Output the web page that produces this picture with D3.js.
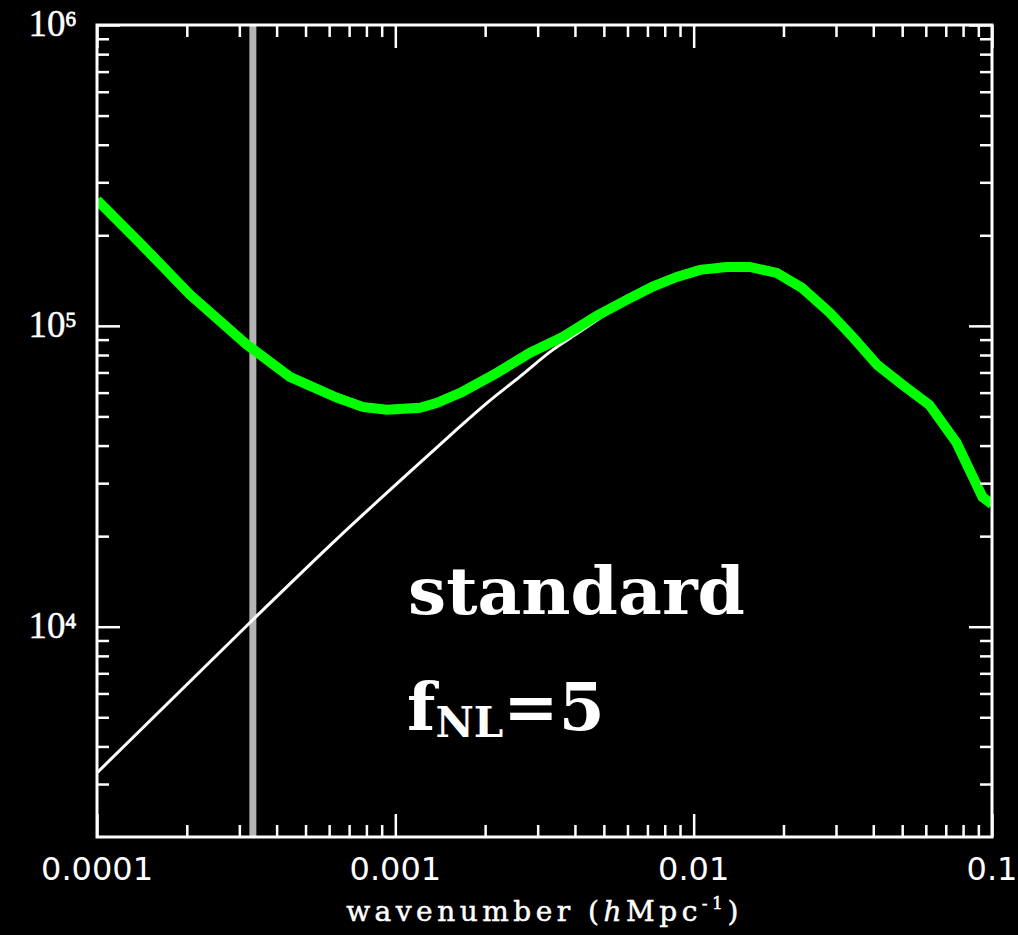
<!DOCTYPE html>
<html>
<head>
<meta charset="utf-8">
<script src="https://cdn.jsdelivr.net/npm/d3@7"></script>
<style>
  body { margin: 0; background: #000; }
</style>
</head>
<body>
<div id="chart-area"></div>
<script>

// data
var xMajor = [0.0001, 0.001, 0.01, 0.1]
var xLabels = ['0.0001', '0.001', '0.01', '0.1']
var yMajor = [1e4, 1e5, 1e6]
var yExp = ['4', '5', '6']

// green curve (fNL = 5)
var greenK = [1e-4, 1.39e-4, 2.05e-4, 3.18e-4, 4.43e-4, 6.37e-4, 7.78e-4, 9.36e-4, 1.21e-3, 1.38e-3,
              1.68e-3, 2.19e-3, 2.82e-3, 3.64e-3, 4.73e-3, 5.96e-3, 7.29e-3, 8.78e-3, 1.05e-2, 1.29e-2,
              1.54e-2, 1.90e-2, 2.30e-2, 2.85e-2, 3.41e-2, 4.13e-2, 5.01e-2, 6.17e-2, 7.60e-2, 9.29e-2, 0.1]
var greenP = [2.62e5, 1.89e5, 1.27e5, 8.65e4, 6.77e4, 5.77e4, 5.38e4, 5.26e4, 5.34e4, 5.55e4,
              6.04e4, 6.98e4, 8.13e4, 9.19e4, 1.08e5, 1.22e5, 1.35e5, 1.455e5, 1.535e5, 1.57e5,
              1.57e5, 1.50e5, 1.34e5, 1.11e5, 9.19e4, 7.41e4, 6.37e4, 5.46e4, 4.09e4, 2.70e4, 2.55e4]

// white curve (standard) - above 0.006 it runs under the green one
var whiteK = [1e-4, 3.33e-4, 6.32e-4, 1.21e-3, 1.56e-3, 2.03e-3, 2.61e-3, 3.37e-3, 4.15e-3, 5.11e-3,
              5.96e-3, 7.29e-3, 8.78e-3, 1.05e-2, 1.29e-2, 1.54e-2, 1.90e-2, 2.30e-2, 2.85e-2, 3.41e-2,
              4.13e-2, 5.01e-2, 6.17e-2, 7.60e-2, 9.29e-2, 0.1]
var whiteP = [3270, 1.055e4, 1.945e4, 3.51e4, 4.41e4, 5.55e4, 6.77e4, 8.32e4, 9.55e4, 1.10e5,
              1.22e5, 1.35e5, 1.455e5, 1.535e5, 1.57e5, 1.57e5, 1.50e5, 1.34e5, 1.11e5, 9.19e4,
              7.41e4, 6.37e4, 5.46e4, 4.09e4, 2.70e4, 2.55e4]

// grey vertical marker
var markerK = 3.33e-4

//SVG with margins
var margin = {left: 97, right: 26, top: 25, bottom: 98}
var width = 1018 - margin.left - margin.right
var height = 935 - margin.top - margin.bottom

var svg = d3.select('#chart-area').append('svg')
  .attr('width', 1018)
  .attr('height', 935)
  .style('background', '#000')

var group = svg.append('g')
  .attr('transform', 'translate(' + margin.left + ',' + margin.top + ')')

//1. scales
var xScale = d3.scaleLog().domain([1e-4, 0.1]).range([0, width])
var yScale = d3.scaleLog().domain([2000, 1e6]).range([height, 0])

// minor tick positions 2..9 in each decade
var xMinor = [], yMinor = []
xMajor.slice(0, 3).forEach(function(d) {
  for (var m = 2; m <= 9; m++) xMinor.push(d * m)
})
;[1e3, 1e4, 1e5].forEach(function(d) {
  for (var m = 2; m <= 9; m++) if (d * m > 2000) yMinor.push(d * m)
})

// clip for the curves
group.append('clipPath').attr('id', 'plot-clip')
  .append('rect').attr('width', width).attr('height', height)

var plot = group.append('g').attr('clip-path', 'url(#plot-clip)')

//2. grey marker line
plot.append('line')
  .attr('x1', xScale(markerK)).attr('x2', xScale(markerK))
  .attr('y1', 0).attr('y2', height)
  .attr('stroke', '#b4b4b4')
  .attr('stroke-width', 7)

//3. curves
var line = d3.line()
  .x(function(d) { return xScale(d[0]) })
  .y(function(d) { return yScale(d[1]) })

plot.append('path')
  .datum(d3.zip(whiteK, whiteP))
  .attr('d', line.curve(d3.curveMonotoneX))
  .attr('fill', 'none')
  .attr('stroke', '#fff')
  .attr('stroke-width', 3)

plot.append('path')
  .datum(d3.zip(greenK, greenP))
  .attr('d', line.curve(d3.curveLinear))
  .attr('fill', 'none')
  .attr('stroke', '#00ff00')
  .attr('stroke-width', 10)

//4. axes, ticks inward on all four sides
function styleAxis(g) {
  g.select('.domain').remove()
  g.selectAll('.tick line').attr('stroke', '#fff').attr('stroke-width', 2.5)
  g.selectAll('.tick text').remove()
}

group.append('g').attr('transform', 'translate(0,' + height + ')')
  .call(d3.axisBottom(xScale).tickValues(xMajor).tickSize(-23)).call(styleAxis)
group.append('g').attr('transform', 'translate(0,' + height + ')')
  .call(d3.axisBottom(xScale).tickValues(xMinor).tickSize(-12)).call(styleAxis)
group.append('g')
  .call(d3.axisTop(xScale).tickValues(xMajor).tickSize(-23)).call(styleAxis)
group.append('g')
  .call(d3.axisTop(xScale).tickValues(xMinor).tickSize(-12)).call(styleAxis)

group.append('g')
  .call(d3.axisLeft(yScale).tickValues(yMajor).tickSize(-23)).call(styleAxis)
group.append('g')
  .call(d3.axisLeft(yScale).tickValues(yMinor).tickSize(-12)).call(styleAxis)
group.append('g').attr('transform', 'translate(' + width + ',0)')
  .call(d3.axisRight(yScale).tickValues(yMajor).tickSize(-23)).call(styleAxis)
group.append('g').attr('transform', 'translate(' + width + ',0)')
  .call(d3.axisRight(yScale).tickValues(yMinor).tickSize(-12)).call(styleAxis)

// frame
group.append('rect')
  .attr('width', width).attr('height', height)
  .attr('fill', 'none')
  .attr('stroke', '#fff')
  .attr('stroke-width', 3)

//5. tick labels
group.selectAll('.xlab')
  .data(xMajor)
  .enter()
  .append('text')
  .attr('class', 'xlab')
  .attr('x', function(d) { return xScale(d) })
  .attr('y', height + 43)
  .attr('text-anchor', 'middle')
  .attr('font-family', 'DejaVu Sans')
  .attr('font-size', '32px')
  .attr('fill', '#fff')
  .text(function(d, i) { return xLabels[i] })

var ylab = group.selectAll('.ylab')
  .data(yMajor)
  .enter()
  .append('text')
  .attr('class', 'ylab')
  .attr('x', -21)
  .attr('y', function(d) { return yScale(d) + 11 })
  .attr('text-anchor', 'end')
  .attr('font-family', 'Liberation Serif')
  .attr('fill', '#fff')
  .attr('stroke', '#fff')
  .attr('stroke-width', 0.4)

ylab.append('tspan').attr('font-size', '37px').text('10')
ylab.append('tspan').attr('font-size', '21px').attr('dy', -10)
  .attr('stroke-width', 0.8)
  .text(function(d, i) { return yExp[i] })

//6. x axis title
var title = svg.append('text')
  .attr('x', margin.left + width / 2)
  .attr('y', 921)
  .attr('text-anchor', 'middle')
  .attr('font-family', 'DejaVu Serif')
  .attr('font-size', '28px')
  .attr('letter-spacing', '4.5px')
  .attr('fill', '#fff')
  .attr('stroke', '#fff')
  .attr('stroke-width', 0.5)

title.append('tspan').text('wavenumber (')
title.append('tspan').attr('font-style', 'italic').text('h')
title.append('tspan').text('Mpc')
title.append('tspan').attr('font-size', '17px').attr('dy', -12).text('-1')
title.append('tspan').attr('dy', 12).text(')')

//7. annotation
svg.append('text')
  .attr('x', 408)
  .attr('y', 614)
  .attr('font-family', 'DejaVu Serif')
  .attr('font-weight', 'bold')
  .attr('font-size', '66px')
  .attr('textLength', 337)
  .attr('lengthAdjust', 'spacingAndGlyphs')
  .attr('fill', '#fff')
  .text('standard')

var fnl = svg.append('text')
  .attr('x', 407)
  .attr('y', 730)
  .attr('font-family', 'DejaVu Serif')
  .attr('font-weight', 'bold')
  .attr('font-size', '66px')
  .attr('fill', '#fff')

fnl.append('tspan').text('f')
fnl.append('tspan').attr('font-size', '42px').attr('dy', 7).text('NL')
fnl.append('tspan').attr('dy', -7).text('=5')

</script>
</body>
</html>
